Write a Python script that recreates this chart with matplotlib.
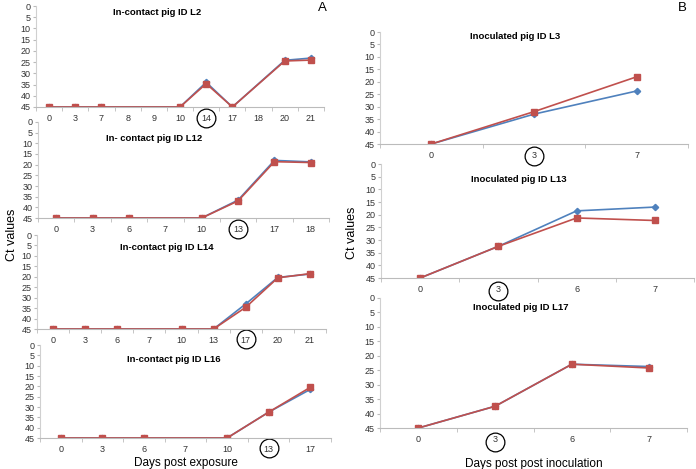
import matplotlib
matplotlib.use('Agg')
import matplotlib.pyplot as plt
import matplotlib.transforms as mtrans
import numpy as np

plt.rcParams['font.family'] = ['Liberation Sans', 'DejaVu Sans']

BLUE = '#4F81BD'
RED = '#C0504D'

# panel A, in-contact pigs (None = no sample that day)
l2_days = ['0', '3', '7', '8', '9', '10', '14', '17', '18', '20', '21']
l2_blue = [45, 45, 45, None, None, 45, 34.0, 45, None, 24.2, 23.2]
l2_red = [45, 45, 45, None, None, 45, 34.6, 45, None, 24.5, 24.1]

l12_days = ['0', '3', '6', '7', '10', '13', '17', '18']
l12_blue = [45, 45, 45, None, 45, 36.6, 18.0, 18.7]
l12_red = [45, 45, 45, None, 45, 37.0, 18.6, 19.0]

l14_days = ['0', '3', '6', '7', '10', '13', '17', '20', '21']
l14_blue = [45, 45, 45, None, 45, 45, 33.0, 20.3, 18.7]
l14_red = [45, 45, 45, None, 45, 45, 34.6, 20.5, 18.5]

l16_days = ['0', '3', '6', '7', '10', '13', '17']
l16_blue = [45, 45, 45, None, 45, 32.5, 21.5]
l16_red = [45, 45, 45, None, 45, 32.5, 20.5]

# panel B, inoculated pigs
l3_days = ['0', '3', '7']
l3_blue = [45, 33.0, 23.7]
l3_red = [45, 32.0, 18.0]

l13_days = ['0', '3', '6', '7']
l13_blue = [45, 32.5, 18.5, 17.0]
l13_red = [45, 32.5, 21.3, 22.3]

l17_days = ['0', '3', '6', '7']
l17_blue = [45, 37.5, 23.0, 23.8]
l17_red = [45, 37.5, 23.0, 24.3]

W, H = 696, 469
fig = plt.figure(figsize=(W / 100, H / 100), dpi=100)


def box(left, right, top, bottom):
    return [left / W, 1 - bottom / H, (right - left) / W, (bottom - top) / H]


def panel(rect, days, blue, red, title, circled, title_x=0.42, title_y=0.88):
    ax = fig.add_axes(rect)
    ax.set_facecolor('none')  # so the circles are not hidden by the next panel
    n = len(days)
    for vals, col, mk, ms in [(blue, BLUE, 'D', 3.2), (red, RED, 's', 4.6)]:
        xs = [i for i, v in enumerate(vals) if v is not None]
        ys = [v for v in vals if v is not None]
        ax.plot(xs, ys, color=col, marker=mk, ms=ms, lw=1.2, mec=col, mfc=col)
    ax.set_xlim(-0.5, n - 0.5)
    ax.set_ylim(45, 0)
    ax.set_yticks(np.arange(0, 50, 5))
    ax.set_xticks(range(n))
    ax.set_xticklabels(days)
    ax.set_xticks(np.arange(-0.5, n, 1), minor=True)
    ax.tick_params(axis='x', which='major', length=0, labelsize=6.5, pad=5, colors='#333333')
    ax.tick_params(axis='x', which='minor', length=3, color='#bbbbbb', direction='out')
    ax.tick_params(axis='y', length=2, labelsize=6.5, colors='#333333', color='#bbbbbb', pad=2)
    for s in ['top', 'right']:
        ax.spines[s].set_visible(False)
    ax.spines['left'].set_color('#d0d0d0')
    ax.spines['bottom'].set_color('#bbbbbb')
    ax.spines['left'].set_linewidth(0.8)
    ax.spines['bottom'].set_linewidth(0.8)
    ax.text(title_x, title_y, title, transform=ax.transAxes, ha='center', va='center',
            fontsize=6.8, fontweight='bold')
    # circle drawn round the day label that is marked in the original
    tr = mtrans.blended_transform_factory(ax.transData, ax.transAxes)
    i = days.index(circled)
    ax.plot([i], [-0.11], 'o', ms=13.5, mfc='none', mec='black', mew=0.9,
            transform=tr, clip_on=False)
    return ax


panel(box(36, 324, 6, 107), l2_days, l2_blue, l2_red, 'In-contact pig ID L2', '14',
      title_x=0.42, title_y=0.94)
panel(box(38, 329, 122, 218), l12_days, l12_blue, l12_red, 'In- contact pig ID L12', '13',
      title_x=0.40, title_y=0.83)
panel(box(37, 326, 235, 329), l14_days, l14_blue, l14_red, 'In-contact pig ID L14', '17',
      title_x=0.45, title_y=0.87)
ax16 = panel(box(40, 331, 345, 438), l16_days, l16_blue, l16_red, 'In-contact pig ID L16', '13',
             title_x=0.46, title_y=0.84)
ax16.set_xlabel('Days post exposure', fontsize=8.5, labelpad=2)

panel(box(380, 688, 32, 144), l3_days, l3_blue, l3_red, 'Inoculated pig ID L3', '3',
      title_x=0.44, title_y=0.96)
panel(box(381, 694, 164, 278), l13_days, l13_blue, l13_red, 'Inoculated pig ID L13', '3',
      title_x=0.44, title_y=0.86)
ax17 = panel(box(380, 687, 297.5, 428), l17_days, l17_blue, l17_red, 'Inoculated pig ID L17', '3',
             title_x=0.46, title_y=0.92)
ax17.set_xlabel('Days post post inoculation', fontsize=8.5, labelpad=10)

fig.text(12 / W, 1 - 235 / H, 'Ct values', rotation=90, ha='center', va='center', fontsize=9)
fig.text(352 / W, 1 - 233 / H, 'Ct values', rotation=90, ha='center', va='center', fontsize=9)
fig.text(322 / W, 1 - 8 / H, 'A', ha='center', va='center', fontsize=9.5)
fig.text(682 / W, 1 - 8 / H, 'B', ha='center', va='center', fontsize=9.5)

fig.savefig('out.png', dpi=100)
